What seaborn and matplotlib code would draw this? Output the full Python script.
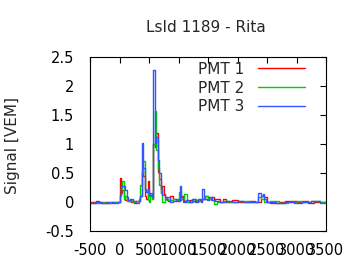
import matplotlib
matplotlib.use('Agg')
import matplotlib.pyplot as plt
import seaborn as sns

# 信号轨迹（时间 ns，信号 VEM），阶梯状
t1 = [-500, -400, -350, -250, -200, -100, -25, 0, 25, 50, 75, 100, 150, 200, 250, 275, 300, 350,
      375, 400, 425, 450, 475, 500, 525, 550, 575, 600, 625, 650, 675, 700, 725, 750, 775, 800,
      825, 850, 900, 950, 1000, 1050, 1100, 1150, 1200, 1250, 1350, 1400, 1450, 1500, 1550, 1600,
      1700, 1750, 1800, 1900, 2000, 2200, 2300, 2400, 2450, 2500, 2550, 2700, 2800, 3000, 3100,
      3200, 3300, 3500]
pmt1 = [0.0, 0.01, -0.01, 0.0, -0.01, 0.0, 0.0, 0.41, 0.15, 0.2, 0.1, 0.04, 0.02, 0.0, -0.02, 0.01, 0.02, 0.1,
        0.55, 0.45, 0.1, 0.05, 0.36, 0.1, 0.12, 0.05, 1.0, 0.95, 1.19, 0.52, 0.4, 0.15, 0.27, 0.13, 0.08, 0.04,
        0.02, 0.1, 0.05, 0.02, 0.04, 0.1, 0.02, 0.0, 0.03, 0.01, 0.04, 0.06, 0.1, 0.06, 0.08, 0.05,
        0.0, 0.06, 0.0, 0.03, 0.0, 0.01, 0.0, 0.1, 0.08, 0.0, -0.01, 0.0, 0.01, 0.0, 0.01,
        -0.01, 0.0, 0.0]

t2 = [-500, -350, -250, -150, -50, 0, 25, 50, 75, 100, 125, 175, 225, 275, 325, 350, 375, 400,
      425, 450, 475, 500, 525, 550, 575, 600, 625, 650, 675, 700, 725, 775, 825, 900, 950, 1000,
      1050, 1100, 1150, 1250, 1300, 1350, 1400, 1450, 1500, 1550, 1600, 1650, 1750, 1850, 2000,
      2200, 2350, 2400, 2450, 2550, 2700, 2850, 3000, 3100, 3250, 3400, 3500]
pmt2 = [-0.01, 0.0, -0.01, 0.0, 0.0, 0.1, 0.25, 0.37, 0.05, 0.1, 0.02, 0.03, 0.0, 0.02, 0.05, 0.3, 0.5, 0.7,
        0.2, 0.2, 0.03, 0.0, 0.1, 0.05, 1.0, 1.57, 0.9, 0.58, 0.3, 0.15, 0.0, 0.05, 0.03, 0.05, 0.04, 0.18,
        0.05, 0.13, 0.0, 0.05, 0.03, 0.02, 0.05, 0.1, 0.06, 0.03, -0.03, 0.0, 0.02, 0.0, 0.01,
        0.0, 0.08, 0.05, 0.0, 0.01, -0.01, 0.0, 0.01, 0.0, 0.01, 0.0, 0.0]

t3 = [-500, -400, -300, -200, -100, -25, 0, 25, 100, 125, 150, 175, 225, 275, 325, 350, 375, 400,
      425, 450, 475, 500, 525, 550, 575, 600, 625, 650, 675, 700, 725, 750, 775, 800, 850, 900,
      950, 1000, 1025, 1050, 1075, 1125, 1175, 1225, 1275, 1325, 1375, 1400, 1425, 1475, 1525,
      1575, 1625, 1700, 1800, 1900, 2000, 2100, 2350, 2400, 2425, 2450, 2475, 2550, 2650, 2800,
      2950, 3100, 3250, 3400, 3500]
pmt3 = [-0.01, 0.0, -0.01, 0.0, -0.01, 0.0, 0.12, 0.28, 0.2, 0.08, 0.03, 0.05, 0.01, -0.01, 0.02, 0.1, 1.02, 0.58,
        0.22, 0.18, 0.22, 0.12, 0.15, 0.08, 2.27, 1.02, 1.12, 0.72, 0.5, 0.22, 0.12, 0.12, 0.06, 0.08, 0.0, 0.02,
        0.05, 0.01, 0.28, 0.08, 0.0, 0.03, 0.0, 0.05, 0.0, 0.05, 0.0, 0.22, 0.05, 0.03, 0.08,
        0.03, 0.02, 0.0, 0.02, 0.0, 0.01, 0.0, 0.16, 0.1, 0.13, 0.06, 0.0, 0.0, -0.01, 0.0,
        -0.01, 0.0, 0.01, -0.01, -0.01]

labels = ['PMT 1', 'PMT 2', 'PMT 3']
colors = ['#ff0000', '#00cc00', '#3355ff']
xticks = [-500, 0, 500, 1000, 1500, 2000, 2500, 3000, 3500]
yticks = [-0.5, 0, 0.5, 1, 1.5, 2, 2.5]

sns.set_style('white')
plt.rcParams['font.family'] = ['DejaVu Sans']
plt.rcParams['axes.unicode_minus'] = False

fig = plt.figure(figsize=(3.6, 2.7), dpi=100)
ax = fig.add_axes([90/360, 1-231/270, 236/360, 174/270])

for t, v, lab, c in zip([t1, t2, t3], [pmt1, pmt2, pmt3], labels, colors):
    sns.lineplot(x=t, y=v, drawstyle='steps-post', color=c, lw=1, label=lab, ax=ax)

ax.set_xlim(-500, 3500)
ax.set_ylim(-0.5, 2.5)
ax.set_xticks(xticks)
ax.set_xticklabels([str(x) for x in xticks])
ax.set_yticks(yticks)
ax.set_yticklabels(['-0.5', '0', '0.5', '1', '1.5', '2', '2.5'])
ax.tick_params(axis='both', direction='in', top=True, right=True, length=4, width=0.8,
               labelsize=10.5, colors='black')
ax.tick_params(axis='y', pad=11.5)
ax.tick_params(axis='x', pad=8.4)
for s in ax.spines.values():
    s.set_color('black')
    s.set_linewidth(0.8)

ax.legend(loc='upper right', bbox_to_anchor=(0.911, 0.973), frameon=False, markerfirst=False,
          fontsize=11, handlelength=3.1, handletextpad=0.9, labelspacing=0.25,
          borderpad=0, borderaxespad=0)

fig.text(206/360, 1-27/270, 'LsId 1189 - Rita', ha='center', va='center', fontsize=11)
fig.text(13/360, 1-145/270, 'Signal [VEM]', ha='center', va='center', rotation=90, fontsize=11)

fig.savefig('out.png', dpi=100)
